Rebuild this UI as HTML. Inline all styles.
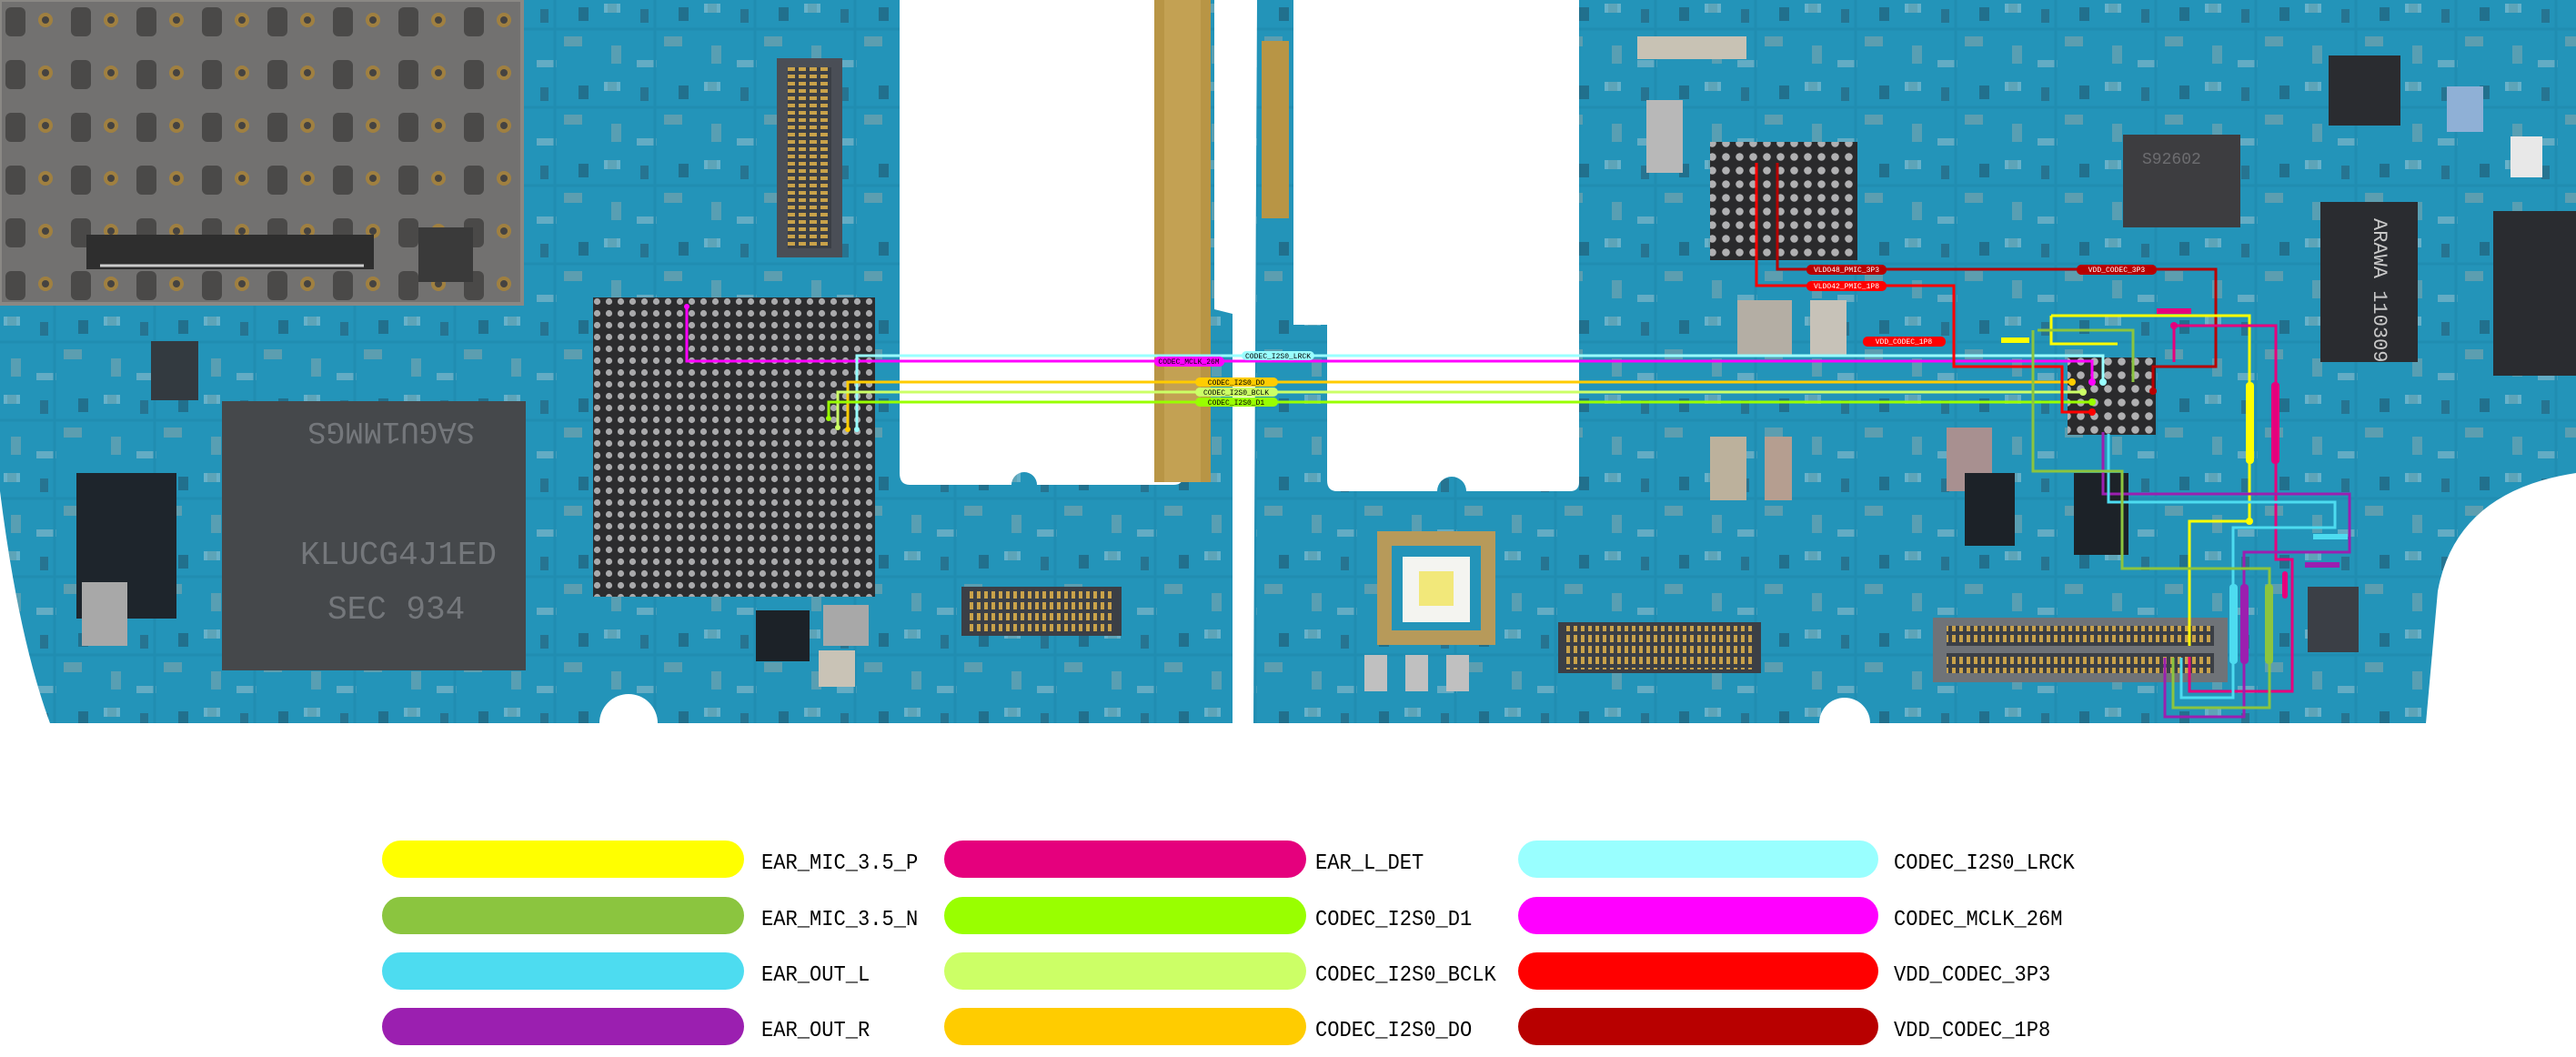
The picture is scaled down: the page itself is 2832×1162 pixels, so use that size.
<!DOCTYPE html>
<html><head><meta charset="utf-8"><style>
html,body{margin:0;padding:0;background:#fff;}
body{width:2832px;height:1162px;overflow:hidden;position:relative;font-family:"Liberation Mono","DejaVu Sans Mono",monospace;}
.pill{position:absolute;height:41px;border-radius:21px;}
.lbl{position:absolute;font-size:24px;color:#000;transform:scaleX(0.92);transform-origin:left top;line-height:30px;}
</style></head><body>
<svg width="2832" height="800" viewBox="0 0 2832 800" style="position:absolute;left:0;top:0" font-family="Liberation Mono, monospace">
<defs>
<pattern id="bga" width="13" height="13" patternUnits="userSpaceOnUse"><rect width="13" height="13" fill="#2c2c2e"/><circle cx="6.5" cy="6.5" r="3.6" fill="#a9a9ab"/></pattern>
<pattern id="bga2" width="15" height="15" patternUnits="userSpaceOnUse"><rect width="15" height="15" fill="#2a2a2c"/><circle cx="7.5" cy="7.5" r="4.3" fill="#b0b0b2"/></pattern>
<pattern id="comps" width="110" height="86" patternUnits="userSpaceOnUse">
<rect x="4" y="4" width="18" height="10" fill="#c9c3b6"/><rect x="4" y="4" width="4" height="10" fill="#e6e6e6"/><rect x="18" y="4" width="4" height="10" fill="#e6e6e6"/>
<rect x="44" y="10" width="9" height="15" fill="#2b3a47"/><rect x="70" y="40" width="20" height="11" fill="#c7b29f"/>
<rect x="12" y="50" width="11" height="20" fill="#b9b4a8"/><rect x="40" y="66" width="22" height="8" fill="#d9d9d9"/><rect x="86" y="8" width="11" height="15" fill="#1e2d3c"/>
<path d="M0 32 H110 M60 0 V86" stroke="#1a7fa3" stroke-width="3"/>
</pattern>
<pattern id="sim" width="72" height="58" patternUnits="userSpaceOnUse"><rect width="72" height="58" fill="#727170"/><rect x="6" y="8" width="22" height="32" rx="6" fill="#4a4948"/><circle cx="50" cy="22" r="8" fill="#a08040"/><circle cx="50" cy="22" r="4" fill="#454341"/></pattern>
<pattern id="pins" width="8" height="12" patternUnits="userSpaceOnUse"><rect width="8" height="12" fill="#3b3f46"/><rect x="2" y="2" width="4" height="8" fill="#c9a24a"/></pattern>
<pattern id="pinsv" width="12" height="8" patternUnits="userSpaceOnUse"><rect width="12" height="8" fill="#3b3f46"/><rect x="2" y="2" width="8" height="4" fill="#c9a24a"/></pattern>
<clipPath id="cb"><path d="M0 0 H1335 V340 L1355 345 V795 H723 A32 32 0 0 0 659 795 H55 Q20 700 0 540 Z M1382 0 H2832 V520 Q2700 540 2680 650 L2667 795 H2056 A28 28 0 0 0 2000 795 H1378 Z"/></clipPath>
</defs>
<path d="M0 0 H1335 V340 L1355 345 V795 H723 A32 32 0 0 0 659 795 H55 Q20 700 0 540 Z" fill="#2394b9"/>
<path d="M1382 0 H2832 V520 Q2700 540 2680 650 L2667 795 H2056 A28 28 0 0 0 2000 795 H1378 Z" fill="#2394b9"/>
<rect x="0" y="0" width="2832" height="795" fill="url(#comps)" opacity="0.35" clip-path="url(#cb)"/>
<path d="M989 0 H1300 V525 Q1300 533 1290 533 H1140 A14 14 0 0 0 1112 533 H1000 Q989 533 989 520 Z" fill="#fff"/>
<rect x="1269" y="0" width="62" height="530" fill="#b89545"/>
<rect x="1280" y="0" width="40" height="530" fill="#c8a75a" opacity="0.7"/>
<path d="M1422 0 H1736 V530 Q1736 540 1726 540 H1612 A16 16 0 0 0 1580 540 H1470 Q1459 540 1459 528 V357 H1422 Z" fill="#fff"/>
<rect x="1387" y="45" width="30" height="195" fill="#b89545"/>
<rect x="0" y="0" width="574" height="334" fill="url(#sim)"/>
<rect x="0" y="0" width="574" height="334" fill="none" stroke="#8a8884" stroke-width="4"/>
<rect x="95" y="258" width="316" height="38" fill="#2e2e2e"/>
<path d="M110 292 H400" stroke="#ccc" stroke-width="3"/>
<rect x="460" y="250" width="60" height="60" fill="#3a3a3a"/>
<rect x="652" y="327" width="310" height="329" fill="url(#bga)"/>
<rect x="244" y="441" width="334" height="296" fill="#45484b"/>
<text x="300" y="485" fill="#74777b" font-size="34" transform="rotate(180 411 475)">SAGU1MMGS</text>
<text x="330" y="620" fill="#74777b" font-size="36">KLUCG4J1ED</text>
<text x="360" y="680" fill="#74777b" font-size="36">SEC 934</text>
<rect x="84" y="520" width="110" height="160" fill="#1e252c"/>
<rect x="166" y="375" width="52" height="65" fill="#333a40"/>
<rect x="90" y="640" width="50" height="70" fill="#a8a8a8"/>
<rect x="831" y="671" width="59" height="56" fill="#1c2228"/>
<rect x="905" y="665" width="50" height="45" fill="#a8a8a8"/>
<rect x="900" y="715" width="40" height="40" fill="#c9c3b6"/>
<rect x="854" y="64" width="72" height="219" fill="#4a4e56"/>
<rect x="866" y="74" width="48" height="199" fill="url(#pinsv)"/>
<rect x="1057" y="645" width="176" height="54" fill="#3b3f46"/>
<rect x="1065" y="648" width="160" height="48" fill="url(#pins)"/>
<rect x="1880" y="156" width="162" height="130" fill="url(#bga2)"/>
<rect x="2334" y="148" width="129" height="102" fill="#3d3d40"/>
<text x="2355" y="180" fill="#6d6d70" font-size="18">S92602</text>
<rect x="2551" y="222" width="107" height="176" fill="#2a2c30"/>
<text x="2610" y="240" fill="#c8c8c8" font-size="22" transform="rotate(90 2610 240)">ARAWA 110309</text>
<rect x="2741" y="232" width="91" height="181" fill="#2a2c30"/>
<rect x="2560" y="61" width="79" height="77" fill="#2a2c30"/>
<rect x="2690" y="95" width="40" height="50" fill="#8fb0d6"/>
<rect x="2760" y="150" width="35" height="45" fill="#e8e8e8"/>
<rect x="2273" y="393" width="97" height="85" fill="url(#bga2)"/>
<rect x="1910" y="330" width="60" height="60" fill="#b4aea4"/>
<rect x="1990" y="330" width="40" height="60" fill="#c7c2b8"/>
<rect x="1880" y="480" width="40" height="70" fill="#bcb19c"/>
<rect x="1940" y="480" width="30" height="70" fill="#b59e90"/>
<rect x="2140" y="470" width="50" height="70" fill="#a89090"/>
<rect x="2280" y="520" width="60" height="90" fill="#1c2228"/>
<rect x="2160" y="520" width="55" height="80" fill="#1c2228"/>
<rect x="1800" y="40" width="120" height="25" fill="#c8c2b4"/>
<rect x="1810" y="110" width="40" height="80" fill="#b8b8b8"/>
<rect x="1514" y="584" width="130" height="125" fill="#b79a5a"/>
<rect x="1530" y="600" width="98" height="93" fill="#2394b9"/>
<rect x="1542" y="612" width="74" height="72" fill="#f4f4f0"/>
<rect x="1560" y="628" width="38" height="38" fill="#f2e87a"/>
<rect x="1713" y="684" width="223" height="56" fill="#3b3f46"/>
<rect x="1720" y="688" width="210" height="48" fill="url(#pins)"/>
<rect x="2125" y="679" width="324" height="71" fill="#6f7378"/>
<rect x="2140" y="688" width="294" height="22" fill="url(#pins)"/>
<rect x="2140" y="718" width="294" height="22" fill="url(#pins)"/>
<rect x="2537" y="645" width="56" height="72" fill="#3b3f46"/>
<rect x="1500" y="720" width="25" height="40" fill="#c0c0c0"/><rect x="1545" y="720" width="25" height="40" fill="#c0c0c0"/><rect x="1590" y="720" width="25" height="40" fill="#c0c0c0"/>
<g fill="none" stroke-width="3">
<polyline points="755,337 755,397 2300,397 2300,420" stroke="#ff00ff"/>
<polyline points="942,472 942,391 2312,391 2312,420" stroke="#99ffff"/>
<polyline points="932,472 932,420 2278,420" stroke="#ffcc00"/>
<polyline points="921,470 921,431 2290,431" stroke="#ccff66"/>
<polyline points="911,460 911,442 2300,442" stroke="#99ff00"/>
<polyline points="1931,179 1931,314 2148,314 2148,403 2267,403 2267,453 2300,453" stroke="#ff0000"/>
<polyline points="1954,179 1954,296 2436,296 2436,403 2367,403 2367,430" stroke="#b80000"/>
<polyline points="2255,347 2473,347 2473,573 2407,573 2407,710" stroke="#ffff00"/>
<polyline points="2390,398 2390,358 2502,358 2502,615 2520,615 2520,760 2407,760 2407,722" stroke="#e5007d"/>
<polyline points="2312,475 2312,543 2583,543 2583,607 2467,607 2467,788 2380,788 2380,723" stroke="#9b1fb0"/>
<polyline points="2318,477 2318,552 2567,552 2567,580 2455,580 2455,767 2398,767 2398,723" stroke="#4ddcf0"/>
<polyline points="2235,363 2235,518 2333,518 2333,625 2495,625 2495,778 2389,778 2389,723" stroke="#8bc53f"/>
<polyline points="2255,347 2255,378 2328,378" stroke="#ffff00"/>
<polyline points="2240,363 2345,363 2345,420" stroke="#8bc53f"/>
</g>
<g>
<circle cx="755" cy="337" r="3" fill="#ff00ff"/><circle cx="942" cy="472" r="3" fill="#99ffff"/><circle cx="932" cy="472" r="3" fill="#ffcc00"/><circle cx="921" cy="470" r="3" fill="#ccff66"/><circle cx="911" cy="460" r="3" fill="#99ff00"/>
<circle cx="2300" cy="420" r="4" fill="#ff00ff"/><circle cx="2312" cy="420" r="4" fill="#99ffff"/><circle cx="2278" cy="420" r="4" fill="#ffcc00"/><circle cx="2290" cy="431" r="4" fill="#ccff66"/><circle cx="2300" cy="442" r="4" fill="#99ff00"/><circle cx="2300" cy="453" r="4" fill="#ff0000"/>
<circle cx="2367" cy="430" r="4" fill="#b80000"/><circle cx="2473" cy="573" r="4" fill="#ffff00"/><circle cx="2390" cy="358" r="4" fill="#e5007d"/>
</g>
<g font-size="8" text-anchor="middle">
<rect x="1365" y="386" width="80" height="10" rx="5" fill="#99ffff"/><text x="1405" y="394">CODEC_I2S0_LRCK</text>
<rect x="1269" y="392" width="77" height="11" rx="5" fill="#ff00ff"/><text x="1307" y="400">CODEC_MCLK_26M</text>
<rect x="1314" y="415" width="91" height="10" rx="5" fill="#ffcc00"/><text x="1359" y="423">CODEC_I2S0_DO</text>
<rect x="1314" y="426" width="91" height="10" rx="5" fill="#ccff66"/><text x="1359" y="434">CODEC_I2S0_BCLK</text>
<rect x="1314" y="437" width="91" height="10" rx="5" fill="#99ff00"/><text x="1359" y="445">CODEC_I2S0_D1</text>
<rect x="1986" y="291" width="88" height="11" rx="5" fill="#b80000"/><text x="2030" y="299" fill="#fff">VLDO48_PMIC_3P3</text>
<rect x="1986" y="309" width="88" height="11" rx="5" fill="#ff0000"/><text x="2030" y="317" fill="#fff">VLDO42_PMIC_1P8</text>
<rect x="2283" y="291" width="88" height="11" rx="5" fill="#b80000"/><text x="2327" y="299" fill="#fff">VDD_CODEC_3P3</text>
<rect x="2048" y="370" width="91" height="11" rx="5" fill="#ff0000"/><text x="2093" y="378" fill="#fff">VDD_CODEC_1P8</text>
</g>
<g>
<rect x="2469" y="420" width="9" height="90" rx="4" fill="#ffff00"/>
<rect x="2497" y="420" width="9" height="90" rx="4" fill="#e5007d"/>
<rect x="2451" y="642" width="9" height="88" rx="4" fill="#4ddcf0"/>
<rect x="2463" y="642" width="9" height="88" rx="4" fill="#9b1fb0"/>
<rect x="2490" y="642" width="9" height="88" rx="4" fill="#8bc53f"/>
<rect x="2509" y="628" width="6" height="30" rx="3" fill="#e5007d"/>
<rect x="2543" y="587" width="38" height="6" fill="#4ddcf0"/>
<rect x="2534" y="618" width="38" height="6" fill="#9b1fb0"/>
<rect x="2371" y="339" width="38" height="6" fill="#e5007d"/>
<rect x="2200" y="371" width="31" height="6" fill="#ffff00"/>
</g>
</svg>
<div class="pill" style="left:420px;top:924px;width:398px;background:#ffff00"></div>
<div class="pill" style="left:420px;top:986px;width:398px;background:#8bc53f"></div>
<div class="pill" style="left:420px;top:1047px;width:398px;background:#4ddcf0"></div>
<div class="pill" style="left:420px;top:1108px;width:398px;background:#9b1fb0"></div>
<div class="pill" style="left:1038px;top:924px;width:398px;background:#e5007d"></div>
<div class="pill" style="left:1038px;top:986px;width:398px;background:#99ff00"></div>
<div class="pill" style="left:1038px;top:1047px;width:398px;background:#ccff66"></div>
<div class="pill" style="left:1038px;top:1108px;width:398px;background:#ffcc00"></div>
<div class="pill" style="left:1669px;top:924px;width:396px;background:#99ffff"></div>
<div class="pill" style="left:1669px;top:986px;width:396px;background:#ff00ff"></div>
<div class="pill" style="left:1669px;top:1047px;width:396px;background:#ff0000"></div>
<div class="pill" style="left:1669px;top:1108px;width:396px;background:#b80000"></div>
<div class="lbl" style="left:837px;top:935px">EAR_MIC_3.5_P</div>
<div class="lbl" style="left:837px;top:997px">EAR_MIC_3.5_N</div>
<div class="lbl" style="left:837px;top:1058px">EAR_OUT_L</div>
<div class="lbl" style="left:837px;top:1119px">EAR_OUT_R</div>
<div class="lbl" style="left:1446px;top:935px">EAR_L_DET</div>
<div class="lbl" style="left:1446px;top:997px">CODEC_I2S0_D1</div>
<div class="lbl" style="left:1446px;top:1058px">CODEC_I2S0_BCLK</div>
<div class="lbl" style="left:1446px;top:1119px">CODEC_I2S0_DO</div>
<div class="lbl" style="left:2082px;top:935px">CODEC_I2S0_LRCK</div>
<div class="lbl" style="left:2082px;top:997px">CODEC_MCLK_26M</div>
<div class="lbl" style="left:2082px;top:1058px">VDD_CODEC_3P3</div>
<div class="lbl" style="left:2082px;top:1119px">VDD_CODEC_1P8</div>
</body></html>
